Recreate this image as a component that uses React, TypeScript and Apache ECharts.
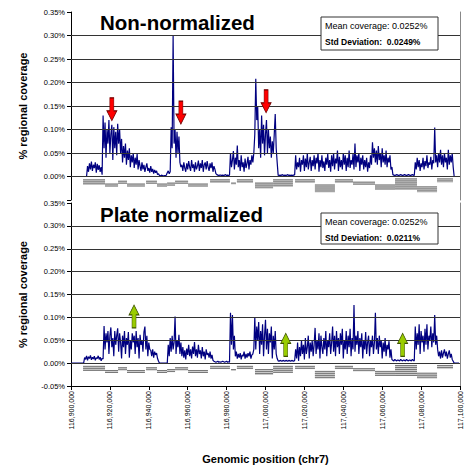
import React, { useEffect, useRef } from "react";
import * as echarts from "echarts";

// ---- axis settings ----
const X_MIN = 116900000;
const X_MAX = 117100000;
const X_INTERVAL = 20000;
const Y_MIN = -0.05;
const Y_MAX = 0.35;
const Y_INTERVAL = 0.05;
const GRID_LINE_VALUES = [0, 0.05, 0.1, 0.15, 0.2, 0.25, 0.3];

// ---- coverage profiles (% regional coverage), one value per 500 bp bin ----
const BIN_START = 116900000;
const BIN_SIZE = 500;

const TOP_VALUES = [
  0, 0, 0, 0, 0, 0, 0, 0, 0, 0, 0, 0, 0, 0, 0, 0, 0,
  0.022, 0.01, 0.028, 0.015, 0.032, 0.012, 0.025, 0.018, 0.03, 0.008, 0.027, 0.014, 0.024, 0.01, 0.02, 0.004,
  0.13, 0.06, 0.115, 0.04, 0.1, 0.07, 0.12, 0.05, 0.09, 0.11, 0.035, 0.105, 0.06, 0.095, 0.045, 0.112, 0.07, 0.1,
  0.05, 0.08, 0.03, 0.065, 0.04, 0.07, 0.025, 0.055, 0.035, 0.06,
  0.02, 0.045, 0.03, 0.05, 0.018, 0.04, 0.025, 0.048, 0.015, 0.035,
  0.022, 0.012, 0.03, 0.015, 0.025, 0.01, 0.02, 0.028, 0.012, 0.018,
  0.008, 0.022, 0.01, 0.016, 0.006, 0.014, 0.008, 0.012, 0.004, 0.006,
  0.002, 0.001, 0.003, 0.002, 0.001, 0.002, 0.001, 0.003, 0.008, 0.012, 0.006, 0.01,
  0.105, 0.06, 0.3, 0.07, 0.1, 0.04, 0.095, 0.05, 0.085, 0.03, 0.02,
  0.025, 0.012, 0.03, 0.018, 0.01, 0.028, 0.015, 0.033, 0.02, 0.012,
  0.035, 0.018, 0.026, 0.01, 0.03, 0.015, 0.022, 0.034, 0.012, 0.028,
  0.018, 0.035, 0.01, 0.025, 0.03, 0.015, 0.033, 0.02, 0.012, 0.028,
  0.018, 0.03, 0.01, 0.022, 0.015, 0.006,
  0.004, 0.003, 0.002, 0.003, 0.003, 0.002, 0.003, 0.002, 0.003, 0.004, 0.002, 0.003, 0.002, 0.003,
  0.05, 0.02, 0.035, 0.054, 0.015, 0.04, 0.025, 0.066, 0.02, 0.035,
  0.012, 0.045, 0.02, 0.03, 0.01, 0.038, 0.018, 0.028, 0.042, 0.015,
  0.035, 0.025, 0.045, 0.03,
  0.05, 0.09, 0.208, 0.12, 0.148, 0.06, 0.1, 0.04, 0.13, 0.07,
  0.11, 0.045, 0.09, 0.12, 0.05, 0.1, 0.06, 0.085, 0.04, 0.075,
  0.05, 0.09, 0.133, 0.06, 0.03,
  0.003, 0.002, 0.003, 0.002, 0.004, 0.003, 0.002, 0.003, 0.002, 0.003,
  0.004, 0.002, 0.003, 0.002, 0.003, 0.002, 0.003, 0.004,
  0.045, 0.015, 0.03, 0.02, 0.04, 0.01, 0.035, 0.025, 0.045, 0.012,
  0.038, 0.02, 0.05, 0.015, 0.03, 0.042, 0.012, 0.035, 0.022, 0.045,
  0.015, 0.04, 0.028, 0.05, 0.01, 0.035, 0.02, 0.045, 0.018, 0.032,
  0.012, 0.04, 0.025, 0.048, 0.018, 0.035, 0.01, 0.045, 0.022, 0.05,
  0.015, 0.038, 0.028, 0.055, 0.012, 0.042, 0.02, 0.035, 0.015, 0.05,
  0.025, 0.045, 0.012, 0.04, 0.02, 0.055, 0.018, 0.035, 0.025, 0.048,
  0.015, 0.07, 0.02, 0.045, 0.03, 0.05, 0.012, 0.04, 0.025, 0.045,
  0.015, 0.035, 0.02, 0.04, 0.01, 0.03, 0.018, 0.045, 0.025,
  0.073, 0.04, 0.06, 0.03, 0.055, 0.025, 0.065, 0.035, 0.05, 0.02,
  0.06, 0.03, 0.045, 0.025, 0.055, 0.02, 0.04, 0.03, 0.045, 0.015,
  0.02,
  0.004, 0.003, 0.002, 0.003, 0.004, 0.003, 0.002, 0.003, 0.004, 0.003,
  0.002, 0.003, 0.004, 0.003, 0.002, 0.003, 0.004, 0.003, 0.002, 0.003,
  0.004, 0.003, 0.002,
  0.03, 0.015, 0.04, 0.02, 0.035, 0.012, 0.028, 0.02, 0.04, 0.015,
  0.033, 0.022, 0.045, 0.018, 0.03, 0.025, 0.042, 0.015, 0.035, 0.028,
  0.104, 0.03, 0.045, 0.02, 0.05, 0.03, 0.057, 0.025, 0.045, 0.02,
  0.05, 0.03, 0.04, 0.015, 0.057, 0.025, 0.045, 0.03, 0.05, 0.02,
  0, 0, 0, 0, 0, 0,
];

const BOTTOM_VALUES = [
  0, 0, 0, 0, 0, 0, 0, 0, 0, 0, 0, 0, 0, 0,
  0.012, 0.008, 0.016, 0.006, 0.014, 0.01, 0.017, 0.007, 0.013, 0.009,
  0.015, 0.006, 0.012, 0.01, 0.016, 0.008, 0.013, 0.005, 0.011, 0.009,
  0.081, 0.03, 0.065, 0.045, 0.07, 0.02, 0.06, 0.078, 0.035, 0.055,
  0.015, 0.07, 0.04, 0.06, 0.076, 0.025, 0.065, 0.045, 0.01, 0.06,
  0.035, 0.07, 0.02, 0.055, 0.04, 0.068, 0.012, 0.05, 0.03, 0.065,
  0.045, 0.06, 0.02, 0.07, 0.035, 0.055, 0.01, 0.062, 0.04, 0.05,
  0.025, 0.068, 0.08, 0.03, 0.06, 0.015, 0.045, 0.03,
  0.028, 0.015, 0.03, 0.012, 0.025, 0.018, 0.022, 0.01, 0.004,
  0, 0, 0, 0, 0, 0, 0, 0, 0,
  0.04, 0.015, 0.055, 0.025, 0.06, 0.03, 0.045, 0.102, 0.02, 0.05, 0.035, 0.062, 0.02, 0.045,
  0.015, 0.035, 0.012, 0.028, 0.008, 0.032, 0.018, 0.04, 0.015, 0.03,
  0.01, 0.036, 0.02, 0.046, 0.015, 0.03, 0.012, 0.04, 0.02, 0.028,
  0.01, 0.035, 0.015, 0.025, 0.008, 0.03, 0.018, 0.022, 0.012, 0.025,
  0.01, 0.018, 0.006, 0.004,
  0.003, 0.002, 0.003, 0.004, 0.002, 0.003, 0.002, 0.003, 0.004, 0.003, 0.002, 0.003, 0.004, 0.002, 0.003, 0.002,
  0.11, 0.04, 0.105, 0.03, 0.06, 0.015, 0.025, 0.01, 0.02, 0.012,
  0.022, 0.008, 0.018, 0.015, 0.025, 0.01, 0.02, 0.012, 0.022, 0.015,
  0.025, 0.01, 0.018, 0.02, 0.03,
  0.1, 0.03, 0.08, 0.05, 0.09, 0.02, 0.07, 0.04, 0.085, 0.015,
  0.06, 0.095, 0.03, 0.075, 0.02, 0.065, 0.045, 0.08, 0.01, 0.06,
  0.03, 0.07, 0.02, 0.01,
  0.005, 0.004, 0.006, 0.005, 0.004, 0.006, 0.005, 0.004, 0.006, 0.005,
  0.004, 0.006, 0.005, 0.004, 0.006, 0.005, 0.004, 0.006,
  0.03, 0.01, 0.045, 0.005, 0.035, 0.015, 0.05, 0.02, 0.04, 0.008,
  0.055, 0.02, 0.035, 0.06, 0.01, 0.045, 0.025, 0.05, 0.015, 0.04,
  0.077, 0.02, 0.05, 0.03, 0.065, 0.01, 0.06, 0.035, 0.02, 0.055,
  0.03, 0.07, 0.015, 0.05, 0.035, 0.065, 0.02, 0.045, 0.08, 0.025,
  0.06, 0.015, 0.07, 0.035, 0.055, 0.02, 0.065, 0.04, 0.075, 0.01,
  0.05, 0.03, 0.07, 0.02, 0.06, 0.035, 0.075, 0.015, 0.055, 0.03,
  0.127, 0.025, 0.06, 0.04, 0.07, 0.02, 0.055, 0.035, 0.065, 0.01,
  0.05, 0.03, 0.068, 0.02, 0.045, 0.06, 0.015, 0.05, 0.035, 0.06,
  0.02, 0.045, 0.11, 0.03, 0.055, 0.02, 0.06, 0.035, 0.05, 0.01,
  0.045, 0.025, 0.055, 0.015, 0.04, 0.03, 0.048, 0.012, 0.03, 0.008,
  0.006, 0.005, 0.008, 0.006, 0.005, 0.007, 0.006, 0.005, 0.008, 0.006,
  0.005, 0.007, 0.006, 0.005, 0.008, 0.006, 0.005, 0.007, 0.006, 0.005,
  0.008, 0.006, 0.005,
  0.08, 0.03, 0.065, 0.04, 0.085, 0.02, 0.07, 0.045, 0.06, 0.025,
  0.075, 0.04, 0.085, 0.03, 0.06, 0.05, 0.08, 0.035, 0.065, 0.045,
  0.105, 0.04, 0.06,
  0.03, 0.015, 0.025, 0.01, 0.028, 0.012, 0.022, 0.03, 0.015, 0.025,
  0.01, 0.02, 0.028, 0.012, 0.02, 0.008, 0.004,
  0, 0, 0, 0, 0, 0,
];

// ---- gene annotation track (drawn below zero) ----
const GENE_START = [116906200, 116917500, 116924200, 116928800, 116938600, 116944200, 116949400, 116953500, 116960200, 116971500, 116982300, 116985300, 116994600, 117003900, 117015200, 117025400, 117035700, 117045000, 117056300, 117066600, 117077900, 117088200];
const GENE_END = [116917500, 116924200, 116928800, 116938000, 116944200, 116949400, 116953500, 116960200, 116970400, 116981700, 116984800, 116993600, 117003900, 117014100, 117025400, 117035700, 117045000, 117056300, 117066600, 117077900, 117088200, 117096400];
const GENE_TOP = [-0.006, -0.015, -0.009, -0.015, -0.009, -0.015, -0.013, -0.009, -0.015, -0.006, -0.013, -0.006, -0.013, -0.006, -0.006, -0.017, -0.006, -0.011, -0.017, -0.004, -0.021, -0.004];
const GENE_BOTTOM = [-0.017, -0.021, -0.015, -0.021, -0.015, -0.021, -0.019, -0.015, -0.021, -0.013, -0.017, -0.013, -0.026, -0.021, -0.013, -0.034, -0.013, -0.017, -0.028, -0.028, -0.034, -0.013];

// ---- arrows ----
const DOWN_ARROW_POS = [116921000, 116956500, 117000300];
const DOWN_ARROW_VAL = [0.143, 0.136, 0.16];
const UP_ARROW_POS = [116932400, 117010400, 117070500];
const UP_ARROW_VAL = [0.102, 0.04, 0.04];

// ---- texts ----
const TITLES = ["Non-normalized", "Plate normalized"];
const MEAN_TEXT = ["Mean coverage: 0.0252%", "Mean coverage: 0.0252%"];
const SD_TEXT = ["Std Deviation:  0.0249%", "Std Deviation:  0.0211%"];
const Y_NAME = "% regional coverage";
const X_NAME = "Genomic position (chr7)";

const FONT = "'Liberation Sans', Arial, sans-serif";

const DOWN_ARROW = "path://M3,0 L7,0 L7,13 L10,13 L5,23 L0,13 L3,13 Z";
const UP_ARROW = "path://M5,0 L10,10 L7,10 L7,23 L3,23 L3,10 L0,10 Z";

function toPairs(values: number[]) {
  return values.map((v, i) => [BIN_START + i * BIN_SIZE, v]);
}

const geneData = GENE_START.map((s, i) => [s, GENE_END[i], GENE_TOP[i], GENE_BOTTOM[i]]);

function geneRender(params: any, api: any) {
  const p1 = api.coord([api.value(0), api.value(2)]);
  const p2 = api.coord([api.value(1), api.value(3)]);
  const x = p1[0];
  const y = p1[1];
  const w = p2[0] - p1[0];
  const h = p2[1] - p1[1];
  const children: any[] = [
    { type: "rect", shape: { x, y, width: w, height: h }, style: { fill: "#cfcfcf" } },
  ];
  for (let yy = y + 0.5; yy < y + h; yy += 2) {
    children.push({
      type: "line",
      shape: { x1: x, y1: yy, x2: x + w, y2: yy },
      style: { stroke: "#777", lineWidth: 1 },
    });
  }
  return { type: "group", children };
}

function yLeft(gridIndex: number, hideMin: boolean) {
  return {
    type: "value",
    gridIndex,
    min: Y_MIN,
    max: Y_MAX,
    interval: Y_INTERVAL,
    name: Y_NAME,
    nameLocation: "middle",
    nameRotate: 90,
    nameGap: 43,
    nameTextStyle: { fontFamily: FONT, fontSize: 11, fontWeight: "bold", color: "#000" },
    axisLine: { show: true, lineStyle: { color: "#000", width: 1 } },
    axisTick: { show: true, length: 4, lineStyle: { color: "#000" } },
    axisLabel: {
      fontFamily: FONT,
      fontSize: 7.5,
      color: "#000",
      margin: 6,
      formatter: (v: number) => (hideMin && v < -0.04 ? "" : v.toFixed(2) + "%"),
    },
    splitLine: { show: false },
  };
}

function yRight(gridIndex: number) {
  return {
    type: "value",
    gridIndex,
    position: "right",
    min: Y_MIN,
    max: Y_MAX,
    interval: Y_INTERVAL,
    axisLine: { show: true, lineStyle: { color: "#888", width: 1 } },
    axisTick: { show: false },
    axisLabel: { show: false },
    splitLine: { show: false },
  };
}

function gridLines() {
  return {
    silent: true,
    symbol: "none",
    label: { show: false },
    lineStyle: { color: "#333", width: 1, type: "solid" },
    data: GRID_LINE_VALUES.map((v) => ({ yAxis: v })),
  };
}

function arrows(pos: number[], val: number[], symbol: string, color: string, border: string) {
  return {
    symbol,
    symbolSize: [10, 23],
    silent: true,
    label: { show: false },
    itemStyle: { color, borderColor: border, borderWidth: 0.8 },
    data: pos.map((p, i) => ({ coord: [p, val[i]] })),
  };
}

function legendBox(y: number, h: number, t1: string, t2: string) {
  return {
    type: "group",
    z: 100,
    children: [
      { type: "rect", shape: { x: 321, y, width: 117, height: h }, style: { fill: "#fff", stroke: "#333", lineWidth: 1 }, z: 100 },
      { type: "text", x: 325, y: y + 9, style: { text: t1, font: `9px ${FONT}`, fill: "#000", textVerticalAlign: "middle" }, z: 101 },
      { type: "text", x: 325, y: y + 25, style: { text: t2, font: `bold 8.5px ${FONT}`, fill: "#000", textVerticalAlign: "middle" }, z: 101 },
    ],
  };
}

export default function App() {
  const ref = useRef<HTMLDivElement>(null);
  useEffect(() => {
    if (!ref.current) return;
    const chart = echarts.init(ref.current, undefined, { renderer: "svg" });
    const xBase = {
      type: "value",
      min: X_MIN,
      max: X_MAX,
      interval: X_INTERVAL,
      splitLine: { show: false },
    };
    chart.setOption({
      animation: false,
      backgroundColor: "#fff",
      grid: [
        { left: 71, right: 5, top: 12, height: 188 },
        { left: 71, right: 5, top: 203, height: 188 },
      ],
      xAxis: [
        { ...xBase, gridIndex: 0, show: false },
        {
          ...xBase,
          gridIndex: 1,
          name: X_NAME,
          nameLocation: "middle",
          nameGap: 67,
          nameTextStyle: { fontFamily: FONT, fontSize: 11, fontWeight: "bold", color: "#000" },
          axisLine: { show: true, onZero: false, lineStyle: { color: "#000", width: 1 } },
          axisTick: { show: true, length: 4, lineStyle: { color: "#000" } },
          axisLabel: {
            rotate: 90,
            fontFamily: FONT,
            fontSize: 7,
            color: "#000",
            margin: 5,
            showMinLabel: true,
            showMaxLabel: true,
            formatter: (v: number) => Math.round(v).toLocaleString("en-US"),
          },
        },
      ],
      yAxis: [yLeft(0, true), yRight(0), yLeft(1, false), yRight(1)],
      series: [
        {
          type: "custom",
          xAxisIndex: 0,
          yAxisIndex: 0,
          renderItem: geneRender,
          encode: { x: [0, 1], y: [2, 3] },
          data: geneData,
          silent: true,
          z: 1,
        },
        {
          type: "custom",
          xAxisIndex: 1,
          yAxisIndex: 2,
          renderItem: geneRender,
          encode: { x: [0, 1], y: [2, 3] },
          data: geneData,
          silent: true,
          z: 1,
        },
        {
          type: "line",
          xAxisIndex: 0,
          yAxisIndex: 0,
          data: toPairs(TOP_VALUES),
          showSymbol: false,
          lineStyle: { color: "#000080", width: 1.2 },
          itemStyle: { color: "#000080" },
          z: 3,
          markLine: gridLines(),
          markPoint: arrows(DOWN_ARROW_POS, DOWN_ARROW_VAL, DOWN_ARROW, "#ff0000", "#700000"),
        },
        {
          type: "line",
          xAxisIndex: 1,
          yAxisIndex: 2,
          data: toPairs(BOTTOM_VALUES),
          showSymbol: false,
          lineStyle: { color: "#000080", width: 1.2 },
          itemStyle: { color: "#000080" },
          z: 3,
          markLine: gridLines(),
          markPoint: arrows(UP_ARROW_POS, UP_ARROW_VAL, UP_ARROW, "#99cc00", "#3d5200"),
        },
      ],
      graphic: [
        { type: "text", x: 100, y: 22, z: 100, style: { text: TITLES[0], font: `bold 20.5px ${FONT}`, fill: "#000", textVerticalAlign: "middle" } },
        { type: "text", x: 100, y: 214, z: 100, style: { text: TITLES[1], font: `bold 20.5px ${FONT}`, fill: "#000", textVerticalAlign: "middle" } },
        legendBox(17, 33, MEAN_TEXT[0], SD_TEXT[0]),
        legendBox(213, 31, MEAN_TEXT[1], SD_TEXT[1]),
      ],
    });
    return () => chart.dispose();
  }, []);
  return (
    <div
      ref={ref}
      style={{ position: "fixed", left: 0, top: 0, width: 465, height: 465, background: "#fff" }}
    />
  );
}
